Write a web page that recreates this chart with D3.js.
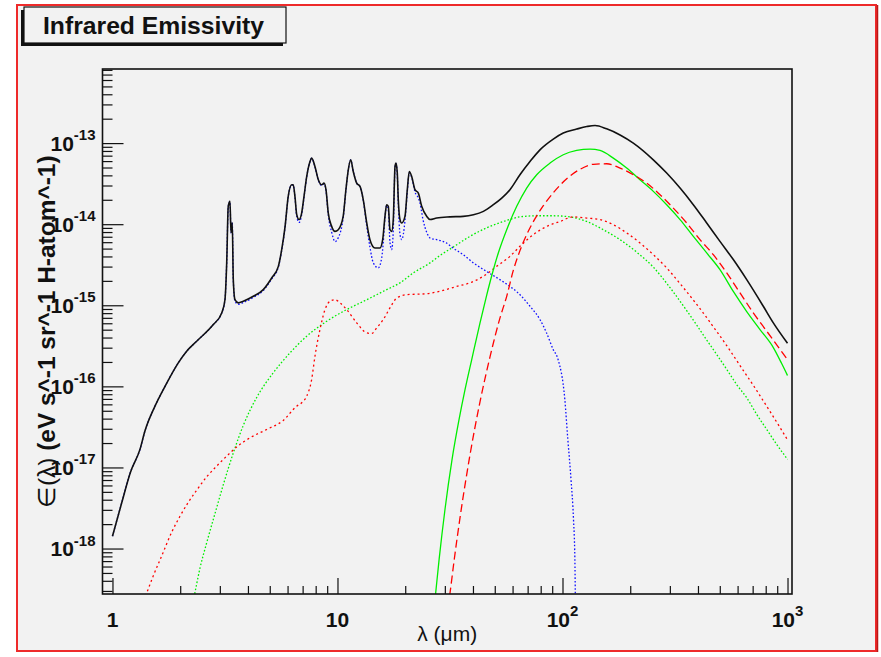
<!DOCTYPE html>
<html>
<head>
<meta charset="utf-8">
<script src="https://cdn.jsdelivr.net/npm/d3@7"></script>
<style>
  html, body { margin: 0; padding: 0; background: #ffffff; }
  svg { display: block; font-family: "Liberation Sans", Arial, Helvetica, sans-serif; }
</style>
</head>
<body>
<svg id="chart" width="881" height="657"></svg>
<script>
// ---- axis ranges and tick labels ----
const xDomain = [0.903, 1047];          // wavelength, micron
const yDomain = [2.75e-19, 8.2e-13];    // emissivity per H atom
const xMajorLabels = [[1, "1", ""], [10, "10", ""], [100, "10", "2"], [1000, "10", "3"]];
const yMajorLabels = [[1e-13, "-13"], [1e-14, "-14"], [1e-15, "-15"], [1e-16, "-16"], [1e-17, "-17"], [1e-18, "-18"]];

// ---- emission spectra: [wavelength (micron), emissivity] ----
// total emission
const totalEmission = [
  [1.00,1.42e-18],[1.10,3.69e-18],[1.20,8.63e-18],[1.325,1.67e-17],[1.394,2.81e-17],[1.545,5.70e-17],
  [1.712,1.00e-16],[1.961,1.95e-16],[2.137,2.71e-16],[2.367,3.60e-16],[2.806,5.78e-16],[3.058,8.05e-16],
  [3.162,1.17e-15],[3.219,3.36e-15],[3.27,1.66e-14],[3.328,1.91e-14],[3.363,7.85e-15],[3.407,1.04e-14],
  [3.443,2.07e-15],[3.503,1.17e-15],[3.624,1.07e-15],[3.814,1.12e-15],[4.225,1.29e-15],[4.68,1.56e-15],
  [5.10,2.17e-15],[5.46,3.02e-15],[5.65,4.85e-15],[5.85,9.40e-15],[6.04,2.20e-14],[6.26,3.06e-14],
  [6.36,3.06e-14],[6.47,2.20e-14],[6.59,1.31e-14],[6.75,1.14e-14],[6.93,1.37e-14],[7.10,2.20e-14],
  [7.30,3.88e-14],[7.55,5.93e-14],[7.68,6.53e-14],[7.94,5.15e-14],[8.22,3.53e-14],[8.51,3.06e-14],
  [8.71,3.21e-14],[8.89,2.66e-14],[9.10,1.37e-14],[9.42,9.40e-15],[9.75,8.15e-15],[10.08,8.55e-15],
  [10.6,1.25e-14],[10.9,2.66e-14],[11.17,4.69e-14],[11.45,6.22e-14],[11.75,4.47e-14],[12.17,3.21e-14],
  [12.59,2.92e-14],[13.02,2.00e-14],[13.49,1.035e-14],[13.94,6.44e-15],[14.68,5.09e-15],[15.45,5.09e-15],
  [15.88,6.44e-15],[16.26,1.25e-14],[16.54,1.74e-14],[16.82,1.66e-14],[17.11,8.55e-15],[17.41,8.15e-15],
  [17.7,1.14e-14],[18.02,5.15e-14],[18.2,5.67e-14],[18.44,4.27e-14],[18.63,2.00e-14],[18.96,1.14e-14],
  [19.29,1.035e-14],[19.95,1.25e-14],[20.43,2.66e-14],[20.85,4.47e-14],[21.37,3.88e-14],[22.1,2.66e-14],
  [22.87,2.42e-14],[23.67,1.66e-14],[24.91,1.25e-14],[25.77,1.14e-14],[27.6,1.19e-14],[31.6,1.23e-14],
  [36.2,1.25e-14],[40.2,1.31e-14],[44.5,1.44e-14],[49.3,1.74e-14],[53.7,2.10e-14],[58.4,2.66e-14],
  [64.7,4.07e-14],[71.7,5.93e-14],[79.4,8.26e-14],[91.0,1.12e-13],[100.8,1.33e-13],[115.6,1.49e-13],
  [128.2,1.60e-13],[139.5,1.65e-13],[157.1,1.50e-13],[180.2,1.26e-13],[206.4,1.00e-13],[253.3,6.22e-14],
  [290.4,4.27e-14],[333,2.79e-14],[381.4,1.74e-14],[437.4,1.035e-14],[501,6.14e-15],[574.2,3.66e-15],
  [658.8,2.07e-15],[780.6,9.72e-16],[864.9,6.07e-16],[1000,3.40e-16]
];

// PAH emission
const pahEmission = [
  [1.00,1.42e-18],[1.10,3.69e-18],[1.20,8.63e-18],[1.325,1.67e-17],[1.394,2.81e-17],[1.545,5.70e-17],
  [1.712,1.00e-16],[1.961,1.95e-16],[2.137,2.71e-16],[2.367,3.60e-16],[2.806,5.78e-16],[3.058,8.05e-16],
  [3.162,1.17e-15],[3.219,3.36e-15],[3.27,1.66e-14],[3.328,1.91e-14],[3.363,7.85e-15],[3.407,1.04e-14],
  [3.443,2.07e-15],[3.503,1.12e-15],[3.624,1.03e-15],[3.814,1.08e-15],[4.225,1.25e-15],[4.68,1.52e-15],
  [5.10,2.12e-15],[5.46,2.95e-15],[5.65,4.75e-15],[5.85,9.20e-15],[6.04,2.18e-14],[6.26,3.04e-14],
  [6.36,3.04e-14],[6.47,2.15e-14],[6.59,1.25e-14],[6.75,1.05e-14],[6.93,1.30e-14],[7.10,2.15e-14],
  [7.30,3.85e-14],[7.55,5.90e-14],[7.68,6.50e-14],[7.94,5.10e-14],[8.22,3.48e-14],[8.51,3.00e-14],
  [8.71,3.15e-14],[8.89,2.58e-14],[9.10,1.30e-14],[9.42,8.0e-15],[9.75,6.1e-15],[10.08,6.8e-15],
  [10.6,1.2e-14],[10.9,2.6e-14],[11.17,4.69e-14],[11.45,6.22e-14],[11.75,4.47e-14],[12.17,3.21e-14],
  [12.59,2.9e-14],[13.02,1.95e-14],[13.49,9.5e-15],[13.94,5.2e-15],[14.43,3.33e-15],[15.18,2.89e-15],
  [15.72,3.84e-15],[15.98,6.0e-15],[16.26,1.2e-14],[16.54,1.7e-14],[16.82,1.5e-14],[17.11,6.0e-15],
  [17.41,4.85e-15],[17.7,8.5e-15],[18.02,5.0e-14],[18.2,5.6e-14],[18.44,4.1e-14],[18.63,1.8e-14],
  [18.96,7.5e-15],[19.29,6.44e-15],[19.95,1.1e-14],[20.43,2.5e-14],[20.85,4.3e-14],[21.37,3.8e-14],
  [22.1,2.5e-14],[22.87,2.1e-14],[23.27,1.82e-14],[23.99,1.14e-14],[24.98,7.8e-15],[25.77,6.76e-15],
  [27.6,6.44e-15],[30.5,5.87e-15],[32.6,5.09e-15],[36.2,4.21e-15],[40.2,3.33e-15],[45.9,2.62e-15],
  [52.7,2.07e-15],[58.4,1.71e-15],[64.7,1.35e-15],[71.7,9.72e-16],[79.4,6.67e-16],[84.9,4.57e-16],
  [90.9,2.85e-16],[95.6,2.14e-16],[102.4,6.9e-17],[105.6,2.22e-17],[109.1,7.1e-18],[111.9,2.3e-18],
  [113.5,7.4e-19],[114.0,2.8e-19],[114.5,1.0e-19]
];

// small carbon grains
const smallCarbon = [
  [1.352,2.0e-19],[1.419,2.82e-19],[1.518,4.60e-19],[1.655,8.11e-19],[1.833,1.59e-18],[1.995,2.50e-18],
  [2.173,3.72e-18],[2.367,5.23e-18],[2.623,7.66e-18],[2.905,1.04e-17],[3.219,1.38e-17],[3.565,1.79e-17],
  [4.084,2.32e-17],[4.845,2.94e-17],[5.741,3.80e-17],[6.589,5.70e-17],[6.934,6.28e-17],[7.297,7.57e-17],
  [7.679,1.22e-16],[7.943,2.36e-16],[8.36,5.02e-16],[8.80,8.85e-16],[9.26,1.12e-15],[9.75,1.17e-15],
  [10.26,1.07e-15],[10.99,8.85e-16],[12.17,6.07e-16],[13.49,4.57e-16],[14.19,4.49e-16],[14.94,5.27e-16],
  [15.98,6.67e-16],[17.11,9.29e-16],[18.33,1.23e-15],[20.3,1.35e-15],[24.91,1.39e-15],[28.55,1.49e-15],
  [33.9,1.71e-15],[38.8,1.89e-15],[44.5,2.28e-15],[51.0,3.02e-15],[58.4,4.01e-15],[64.7,5.33e-15],
  [74.2,7.43e-15],[85.1,9.40e-15],[97.5,1.08e-14],[111.7,1.23e-14],[128.2,1.19e-14],[146.8,1.14e-14],
  [168.2,9.86e-15],[192.9,7.80e-15],[221,5.87e-15],[253.3,4.21e-15],[290.4,2.89e-15],[333,1.85e-15],
  [381.4,1.16e-15],[422.5,8.02e-16],[460.4,5.78e-16],[501,4.18e-16],[545.8,2.97e-16],[594.6,2.08e-16],
  [647.3,1.46e-16],[704.7,1.03e-16],[768,7.10e-17],[836,4.91e-17],[910,3.37e-17],[1000,2.19e-17]
];

// small silicate grains
const smallSilicate = [
  [2.268,2.06e-19],[2.326,2.87e-19],[2.448,5.72e-19],[2.623,1.18e-18],[2.854,2.69e-18],[3.108,6.11e-18],
  [3.443,1.51e-17],[3.814,3.30e-17],[4.374,7.30e-17],[5.184,1.47e-16],[6.151,2.59e-16],[7.297,4.15e-16],
  [8.954,6.35e-16],[10.99,8.85e-16],[13.49,1.17e-15],[16.54,1.56e-15],[18.96,1.89e-15],[21.73,2.51e-15],
  [25.77,3.33e-15],[28.5,4.1e-15],[32.6,5.2e-15],[38.8,7.08e-15],[45.9,8.98e-15],[54.6,1.08e-14],
  [64.7,1.23e-14],[76.8,1.27e-14],[91.0,1.27e-14],[108,1.23e-14],[128.2,1.08e-14],[151.8,8.55e-15],
  [180.2,6.44e-15],[213.7,4.52e-15],[253.3,2.95e-15],[300.5,1.65e-15],[356.4,8.61e-16],[394.9,5.70e-16],
  [437.4,3.73e-16],[484.6,2.47e-16],[536.9,1.62e-16],[594.6,1.05e-16],[658.8,7.24e-17],
  [729.8,4.51e-17],[808.4,2.94e-17],[895.4,1.92e-17],[1000,1.26e-17]
];

// big silicate grains
const bigSilicate = [
  [26.85,1.8e-19],[27.3,2.8e-19],[28.3,7.4e-19],[30.05,3.05e-18],[32.3,1.26e-17],[34.7,3.91e-17],
  [36.9,9.16e-17],[39.5,2.14e-16],[43.0,6.07e-16],[45.9,1.29e-15],[48.4,2.28e-15],[51.85,4.42e-15],
  [56.5,8.55e-15],[62.6,1.66e-14],[69.3,2.79e-14],[76.8,4.07e-14],[88.0,5.67e-14],[100.8,7.18e-14],
  [115.6,8.11e-14],[132.6,8.44e-14],[146.8,8.11e-14],[168.2,6.53e-14],[192.9,4.92e-14],[221,3.53e-14],
  [253.3,2.54e-14],[290.4,1.74e-14],[333,1.14e-14],[381.4,7.08e-15],[437.4,4.42e-15],[501,2.75e-15],
  [574.2,1.48e-15],[658.8,8.36e-16],[754.8,5.02e-16],[865,3.01e-16],[942,1.91e-16],[1000,1.36e-16]
];

// big carbon grains
const bigCarbon = [
  [30.35,1.35e-19],[31.62,2.82e-19],[33.04,7.38e-19],[35.04,2.40e-18],[38.81,1.43e-17],[42.99,6.44e-17],
  [47.62,2.31e-16],[52.75,6.98e-16],[56.5,1.29e-15],[60.4,2.67e-15],[64.7,4.72e-15],[69.3,7.43e-15],
  [75.5,1.17e-14],[82.2,1.69e-14],[91.0,2.44e-14],[104.4,3.63e-14],[119.6,4.75e-14],[137.1,5.48e-14],
  [157.1,5.56e-14],[180.2,4.92e-14],[206.4,4.07e-14],[236.7,3.21e-14],[271.3,2.31e-14],
  [310.8,1.58e-14],[356.4,1.035e-14],[408.4,6.44e-15],[467.9,4.21e-15],[536.9,2.51e-15],[615.2,1.42e-15],
  [704.7,8.05e-16],[808.4,4.79e-16],[926.3,2.85e-16],[1000,2.14e-16]
];

const series = [
  { data: smallSilicate, color: "#00ee00", width: 1.3, dash: "1.6 2" },
  { data: smallCarbon,   color: "#ff0000", width: 1.3, dash: "2 3" },
  { data: pahEmission,   color: "#1010ff", width: 1.3, dash: "1.6 2" },
  { data: bigSilicate,   color: "#00ee00", width: 1.3, dash: null },
  { data: bigCarbon,     color: "#ff0000", width: 1.3, dash: "8 4" },
  { data: totalEmission, color: "#111111", width: 1.6, dash: null }
];

// ---- layout ----
const W = 881, H = 657;
const frame = { left: 102.5, right: 792, top: 69, bottom: 594 };

const x = d3.scaleLog().domain(xDomain).range([frame.left, frame.right]);
const y = d3.scaleLog().domain(yDomain).range([frame.bottom, frame.top]);

const svg = d3.select("#chart");

// canvas with red highlight border
svg.append("rect").attr("x", 0).attr("y", 0).attr("width", W).attr("height", H).attr("fill", "#ffffff");
svg.append("rect").attr("x", 17).attr("y", 5).attr("width", 859).attr("height", 646)
  .attr("fill", "#f2f2f2").attr("stroke", "#ee2a2a").attr("stroke-width", 2);
svg.append("line").attr("x1", 877.5).attr("x2", 877.5).attr("y1", 5).attr("y2", 652)
  .attr("stroke", "#b81818").attr("stroke-width", 1.5);

// plot frame background
svg.append("rect").attr("x", frame.left).attr("y", frame.top)
  .attr("width", frame.right - frame.left).attr("height", frame.bottom - frame.top)
  .attr("fill", "#f2f2f2");

svg.append("clipPath").attr("id", "plotClip").append("rect")
  .attr("x", frame.left).attr("y", frame.top)
  .attr("width", frame.right - frame.left).attr("height", frame.bottom - frame.top);

// ---- curves ----
const line = d3.line()
  .x(d => x(d[0]))
  .y(d => y(d[1]))
  .curve(d3.curveMonotoneX);

const curves = svg.append("g").attr("clip-path", "url(#plotClip)");
series.forEach(s => {
  curves.append("path")
    .datum(s.data)
    .attr("d", line)
    .attr("fill", "none")
    .attr("stroke", s.color)
    .attr("stroke-width", s.width)
    .attr("stroke-linejoin", "round")
    .attr("stroke-dasharray", s.dash);
});

// ---- axes: ticks point into the frame ----
function logTicks(domain) {
  const out = [];
  const lo = Math.floor(Math.log10(domain[0])), hi = Math.ceil(Math.log10(domain[1]));
  for (let e = lo; e <= hi; e++) {
    for (let m = 1; m <= 9; m++) {
      const v = +(m + "e" + e);
      if (v >= domain[0] && v <= domain[1]) out.push(v);
    }
  }
  return out;
}
const isMajor = v => Math.abs(Math.log10(v) - Math.round(Math.log10(v))) < 1e-6;

const yAxis = svg.append("g").attr("transform", `translate(${frame.left},0)`)
  .call(d3.axisRight(y).tickValues(logTicks(yDomain)).tickSize(10).tickFormat(""));
yAxis.select(".domain").remove();
yAxis.selectAll(".tick line").attr("x2", d => isMajor(d) ? 21 : 10)
  .attr("stroke", "#111").attr("stroke-width", 1.2);

const xAxis = svg.append("g").attr("transform", `translate(0,${frame.bottom})`)
  .call(d3.axisTop(x).tickValues(logTicks(xDomain)).tickSize(8).tickFormat(""));
xAxis.select(".domain").remove();
xAxis.selectAll(".tick line").attr("y2", d => isMajor(d) ? -16 : -8)
  .attr("stroke", "#111").attr("stroke-width", 1.2);

// frame outline
svg.append("rect").attr("x", frame.left).attr("y", frame.top)
  .attr("width", frame.right - frame.left).attr("height", frame.bottom - frame.top)
  .attr("fill", "none").attr("stroke", "#111").attr("stroke-width", 1.6);

// ---- tick labels ----
const yLab = svg.append("g").attr("font-weight", "bold").attr("fill", "#111");
yMajorLabels.forEach(([v, exp]) => {
  const t = yLab.append("text").attr("x", 95.5).attr("y", y(v) + 7.5)
    .attr("text-anchor", "end").attr("font-size", 21);
  t.append("tspan").text("10");
  t.append("tspan").attr("font-size", 15).attr("dy", -10.5).text(exp);
});

const xLab = svg.append("g").attr("font-weight", "bold").attr("fill", "#111");
xMajorLabels.forEach(([v, base, exp]) => {
  const t = xLab.append("text").attr("x", x(v)).attr("y", 627)
    .attr("text-anchor", "middle").attr("font-size", 21);
  t.append("tspan").text(base);
  if (exp) t.append("tspan").attr("font-size", 15).attr("dy", -11).text(exp);
});

// ---- axis titles ----
svg.append("text")
  .attr("x", (frame.left + frame.right) / 2).attr("y", 641)
  .attr("text-anchor", "middle").attr("font-size", 21).attr("fill", "#111")
  .text("λ (μm)");

const yTitle = svg.append("text")
  .attr("transform", `translate(55,${(frame.top + frame.bottom) / 2}) rotate(-90)`)
  .attr("text-anchor", "middle").attr("font-size", 24).attr("fill", "#111")
  .attr("textLength", 352).attr("lengthAdjust", "spacingAndGlyphs");
yTitle.append("tspan").attr("font-weight", "normal").text("∈(λ) ");
yTitle.append("tspan").attr("font-weight", "bold").text("(eV s^-1 sr^-1 H-atom^-1)");

// ---- title box ----
svg.append("rect").attr("x", 21).attr("y", 10).attr("width", 262).attr("height", 36).attr("fill", "#111");
svg.append("rect").attr("x", 24).attr("y", 7).attr("width", 262).attr("height", 36)
  .attr("fill", "#f2f2f2").attr("stroke", "#111").attr("stroke-width", 1.2);
svg.append("text").attr("x", 43).attr("y", 33.5)
  .attr("font-size", 23).attr("font-weight", "bold").attr("fill", "#111")
  .attr("textLength", 221).attr("lengthAdjust", "spacingAndGlyphs")
  .text("Infrared Emissivity");
</script>
</body>
</html>
